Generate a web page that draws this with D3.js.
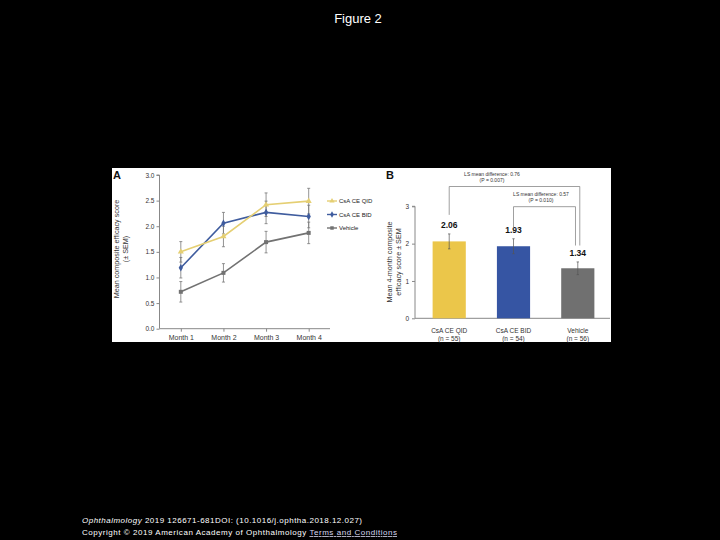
<!DOCTYPE html>
<html>
<head>
<meta charset="utf-8">
<script src="https://cdn.jsdelivr.net/npm/d3@7"></script>
<style>
  html, body { margin: 0; padding: 0; background: #000; }
  svg { display: block; font-family: 'Liberation Sans', Arial, sans-serif; }
</style>
</head>
<body>
<div class="visHolder"></div>
<script>
// ---- data ----
const months = ['Month 1', 'Month 2', 'Month 3', 'Month 4'];
const seriesNames = ['CsA CE QID', 'CsA CE BID', 'Vehicle'];
const qidMeans = [1.50, 1.80, 2.42, 2.49];
const qidSem   = [0.20, 0.20, 0.23, 0.25];
const bidMeans = [1.19, 2.06, 2.27, 2.19];
const bidSem   = [0.20, 0.21, 0.22, 0.22];
const vehMeans = [0.72, 1.09, 1.69, 1.87];
const vehSem   = [0.20, 0.18, 0.21, 0.21];
const yTicksA  = [0, 0.5, 1, 1.5, 2, 2.5, 3];

const barCats  = ['CsA CE QID', 'CsA CE BID', 'Vehicle'];
const barN     = ['(n = 55)', '(n = 54)', '(n = 56)'];
const barMeans = [2.06, 1.93, 1.34];
const barSem   = [0.20, 0.20, 0.17];
const yTicksB  = [0, 1, 2, 3];
const diffLabels = ['LS mean difference: 0.76', 'LS mean difference: 0.57'];
const pLabels    = ['(P = 0.007)', '(P = 0.010)'];
const diffFrom   = ['CsA CE QID', 'CsA CE BID'];

const w = 720, h = 540;
const lineColor = {'CsA CE QID': '#e5cf73', 'CsA CE BID': '#3f5c9e', 'Vehicle': '#727272'};
const barColor  = {'CsA CE QID': '#ebc64a', 'CsA CE BID': '#3655a3', 'Vehicle': '#707070'};
const symbolType = {'CsA CE QID': d3.symbolTriangle, 'CsA CE BID': d3.symbolDiamond, 'Vehicle': d3.symbolSquare};

const svg = d3.select('.visHolder')
  .append('svg')
  .attr('width', w)
  .attr('height', h)
  .attr('viewBox', `0 0 ${w} ${h}`);

svg.append('rect').attr('width', w).attr('height', h).attr('fill', '#000');

svg.append('text')
  .attr('x', 358).attr('y', 23)
  .attr('text-anchor', 'middle')
  .attr('fill', '#fff')
  .style('font-size', '13px')
  .text('Figure 2');

// white figure panel
svg.append('rect')
  .attr('x', 112).attr('y', 168)
  .attr('width', 499).attr('height', 174)
  .attr('fill', '#fff');

// ================= Panel A =================
const gA = svg.append('g');
const series = seriesNames.map((name, i) => ({
  name,
  values: months.map((m, j) => ({
    month: m,
    mean: [qidMeans, bidMeans, vehMeans][i][j],
    sem: [qidSem, bidSem, vehSem][i][j]
  }))
}));

const xA = d3.scalePoint().domain(months).range([159.5, 330]).padding(0.5);
const yA = d3.scaleLinear().domain([0, 3]).range([328.7, 175]);

const yAxisA = d3.axisLeft(yA).tickValues(yTicksA).tickFormat(d3.format('.1f')).tickSize(3).tickPadding(2);
gA.append('g')
  .attr('transform', `translate(159.5,0)`)
  .call(yAxisA)
  .call(g => g.select('.domain').attr('stroke', '#888').attr('d', `M-3,${yA(3)}H0V${yA(0)}`))
  .call(g => g.selectAll('.tick line').attr('stroke', '#888'))
  .call(g => g.selectAll('.tick text').attr('fill', '#333').style('font-size', '6.5px'));

const xAxisA = d3.axisBottom(xA).tickSize(3).tickPadding(3);
gA.append('g')
  .attr('transform', `translate(0,${yA(0)})`)
  .call(xAxisA)
  .call(g => g.select('.domain').attr('stroke', '#888').attr('d', `M159.5,0H330`))
  .call(g => g.selectAll('.tick line').attr('stroke', '#888'))
  .call(g => g.selectAll('.tick text').attr('fill', '#333').style('font-size', '7px'));

// error bars
const errA = gA.append('g');
series.forEach(s => {
  errA.selectAll(null)
    .data(s.values)
    .enter()
    .append('line')
    .attr('x1', d => xA(d.month)).attr('x2', d => xA(d.month))
    .attr('y1', d => yA(d.mean - d.sem)).attr('y2', d => yA(d.mean + d.sem))
    .attr('stroke', '#777').attr('stroke-width', 0.8);
  errA.selectAll(null)
    .data(s.values.flatMap(d => [d.mean - d.sem, d.mean + d.sem].map(v => ({month: d.month, v}))))
    .enter()
    .append('line')
    .attr('x1', d => xA(d.month) - 1.5).attr('x2', d => xA(d.month) + 1.5)
    .attr('y1', d => yA(d.v)).attr('y2', d => yA(d.v))
    .attr('stroke', '#777').attr('stroke-width', 0.8);
});

const line = d3.line().x(d => xA(d.month)).y(d => yA(d.mean));
series.slice().reverse().forEach(s => {
  gA.append('path')
    .datum(s.values)
    .attr('d', line)
    .attr('fill', 'none')
    .attr('stroke', lineColor[s.name])
    .attr('stroke-width', 1.6);
  gA.selectAll(null)
    .data(s.values)
    .enter()
    .append('path')
    .attr('transform', d => `translate(${xA(d.month)},${yA(d.mean)})`)
    .attr('d', d3.symbol().type(symbolType[s.name]).size(16))
    .attr('fill', lineColor[s.name]);
});

// legend
const legend = gA.append('g')
  .selectAll('g')
  .data(seriesNames)
  .enter()
  .append('g')
  .attr('transform', (d, i) => `translate(327,${201 + i * 13.5})`);
legend.append('line')
  .attr('x1', 0).attr('x2', 10)
  .attr('stroke', d => lineColor[d]).attr('stroke-width', 1.4);
legend.append('path')
  .attr('transform', 'translate(5,0)')
  .attr('d', d => d3.symbol().type(symbolType[d]).size(12)())
  .attr('fill', d => lineColor[d]);
legend.append('text')
  .attr('x', 12).attr('dy', '0.35em')
  .attr('fill', '#222')
  .style('font-size', '6px')
  .text(d => d);

// axis title and panel letter
gA.append('text')
  .attr('transform', 'translate(118.5,249) rotate(-90)')
  .attr('text-anchor', 'middle')
  .attr('fill', '#333')
  .style('font-size', '7.2px')
  .selectAll('tspan')
  .data(['Mean composite efficacy score', '(± SEM)'])
  .enter()
  .append('tspan')
  .attr('x', 0).attr('dy', (d, i) => i ? 9 : 0)
  .text(d => d);

gA.append('text')
  .attr('x', 113).attr('y', 178.5)
  .attr('fill', '#111')
  .style('font-size', '11px').style('font-weight', 'bold')
  .text('A');

// ================= Panel B =================
const gB = svg.append('g');
const xB = d3.scaleBand().domain(barCats).range([415, 612]).paddingInner(0.484).paddingOuter(0.274);
const yB = d3.scaleLinear().domain([0, 3]).range([318.3, 206.3]);

gB.append('g')
  .attr('transform', 'translate(415,0)')
  .call(d3.axisLeft(yB).tickValues(yTicksB).tickFormat(d3.format('d')).tickSize(3).tickPadding(3))
  .call(g => g.select('.domain').attr('stroke', '#888').attr('d', `M-3,${yB(3)}H0V${yB(0)}`))
  .call(g => g.selectAll('.tick line').attr('stroke', '#888'))
  .call(g => g.selectAll('.tick text').attr('fill', '#333').style('font-size', '6.5px'));

gB.append('g')
  .attr('transform', `translate(0,${yB(0)})`)
  .call(d3.axisBottom(xB).tickSize(0).tickFormat(''))
  .call(g => g.select('.domain').attr('stroke', '#888').attr('d', 'M415,0H610'));

const bars = barCats.map((c, i) => ({cat: c, n: barN[i], mean: barMeans[i], sem: barSem[i]}));

gB.selectAll('.bar')
  .data(bars)
  .enter()
  .append('rect')
  .attr('class', 'bar')
  .attr('x', d => xB(d.cat))
  .attr('width', xB.bandwidth())
  .attr('y', d => yB(d.mean))
  .attr('height', d => yB(0) - yB(d.mean))
  .attr('fill', d => barColor[d.cat]);

const cx = c => xB(c) + xB.bandwidth() / 2;
gB.selectAll('.err')
  .data(bars)
  .enter()
  .append('line')
  .attr('class', 'err')
  .attr('x1', d => cx(d.cat)).attr('x2', d => cx(d.cat))
  .attr('y1', d => yB(d.mean - d.sem)).attr('y2', d => yB(d.mean + d.sem))
  .attr('stroke', '#555').attr('stroke-width', 0.7);
gB.selectAll('.errcap')
  .data(bars.flatMap(d => [d.mean - d.sem, d.mean + d.sem].map(v => ({cat: d.cat, v}))))
  .enter()
  .append('line')
  .attr('class', 'errcap')
  .attr('x1', d => cx(d.cat) - 1.2).attr('x2', d => cx(d.cat) + 1.2)
  .attr('y1', d => yB(d.v)).attr('y2', d => yB(d.v))
  .attr('stroke', '#555').attr('stroke-width', 0.7);

gB.selectAll('.val')
  .data(bars)
  .enter()
  .append('text')
  .attr('class', 'val')
  .attr('x', d => cx(d.cat))
  .attr('y', d => yB(d.mean + d.sem + 0.24))
  .attr('dy', '0.35em')
  .attr('text-anchor', 'middle')
  .attr('fill', '#111')
  .style('font-size', '8.5px').style('font-weight', 'bold')
  .text(d => d.mean.toFixed(2));

const catLabels = gB.selectAll('.cat')
  .data(bars)
  .enter()
  .append('text')
  .attr('class', 'cat')
  .attr('text-anchor', 'middle')
  .attr('fill', '#333')
  .style('font-size', '6.5px');
catLabels.append('tspan').attr('x', d => cx(d.cat)).attr('y', 333).text(d => d.cat);
catLabels.append('tspan').attr('x', d => cx(d.cat)).attr('y', 341).text(d => d.n);

// comparison brackets (levels in data units of the y scale)
const bracketTop = [3.53, 2.99];
const bracketLeftEnd = [2.77, 2.41];
const bracketRightEnd = 1.95;
const rightShift = [2, -2.3];
const labelX = [492, 541];
diffFrom.forEach((c, i) => {
  const x0 = cx(c);
  const x1 = cx('Vehicle') + rightShift[i];
  gB.append('path')
    .attr('d', `M${x0},${yB(bracketLeftEnd[i])}V${yB(bracketTop[i])}H${x1}V${yB(bracketRightEnd)}`)
    .attr('fill', 'none')
    .attr('stroke', '#777')
    .attr('stroke-width', 0.7);
  gB.append('text')
    .attr('x', labelX[i]).attr('y', yB(bracketTop[i]) - 11)
    .attr('text-anchor', 'middle')
    .attr('fill', '#333')
    .style('font-size', '5px')
    .text(diffLabels[i]);
  gB.append('text')
    .attr('x', labelX[i]).attr('y', yB(bracketTop[i]) - 4.5)
    .attr('text-anchor', 'middle')
    .attr('fill', '#333')
    .style('font-size', '5px')
    .text(pLabels[i]);
});

gB.append('text')
  .attr('transform', 'translate(391.5,262) rotate(-90)')
  .attr('text-anchor', 'middle')
  .attr('fill', '#333')
  .style('font-size', '7.2px')
  .selectAll('tspan')
  .data(['Mean 4-month composite', 'efficacy score ± SEM'])
  .enter()
  .append('tspan')
  .attr('x', 0).attr('dy', (d, i) => i ? 9 : 0)
  .text(d => d);

gB.append('text')
  .attr('x', 386).attr('y', 179)
  .attr('fill', '#111')
  .style('font-size', '11px').style('font-weight', 'bold')
  .text('B');

// ================= footer =================
const foot1 = svg.append('text')
  .attr('x', 82).attr('y', 523)
  .attr('fill', '#fff')
  .attr('textLength', 280)
  .attr('lengthAdjust', 'spacing')
  .style('font-size', '8px');
foot1.append('tspan').style('font-style', 'italic').text('Ophthalmology');
foot1.append('tspan').text(' 2019 126671-681DOI: (10.1016/j.ophtha.2018.12.027)');

const foot2 = svg.append('text')
  .attr('x', 82).attr('y', 535)
  .attr('fill', '#fff')
  .attr('textLength', 315)
  .attr('lengthAdjust', 'spacing')
  .style('font-size', '8px');
foot2.append('tspan').text('Copyright © 2019 American Academy of Ophthalmology ');
foot2.append('tspan')
  .attr('fill', '#d8d8f0')
  .style('text-decoration', 'underline')
  .text('Terms and Conditions');
</script>
</body>
</html>
